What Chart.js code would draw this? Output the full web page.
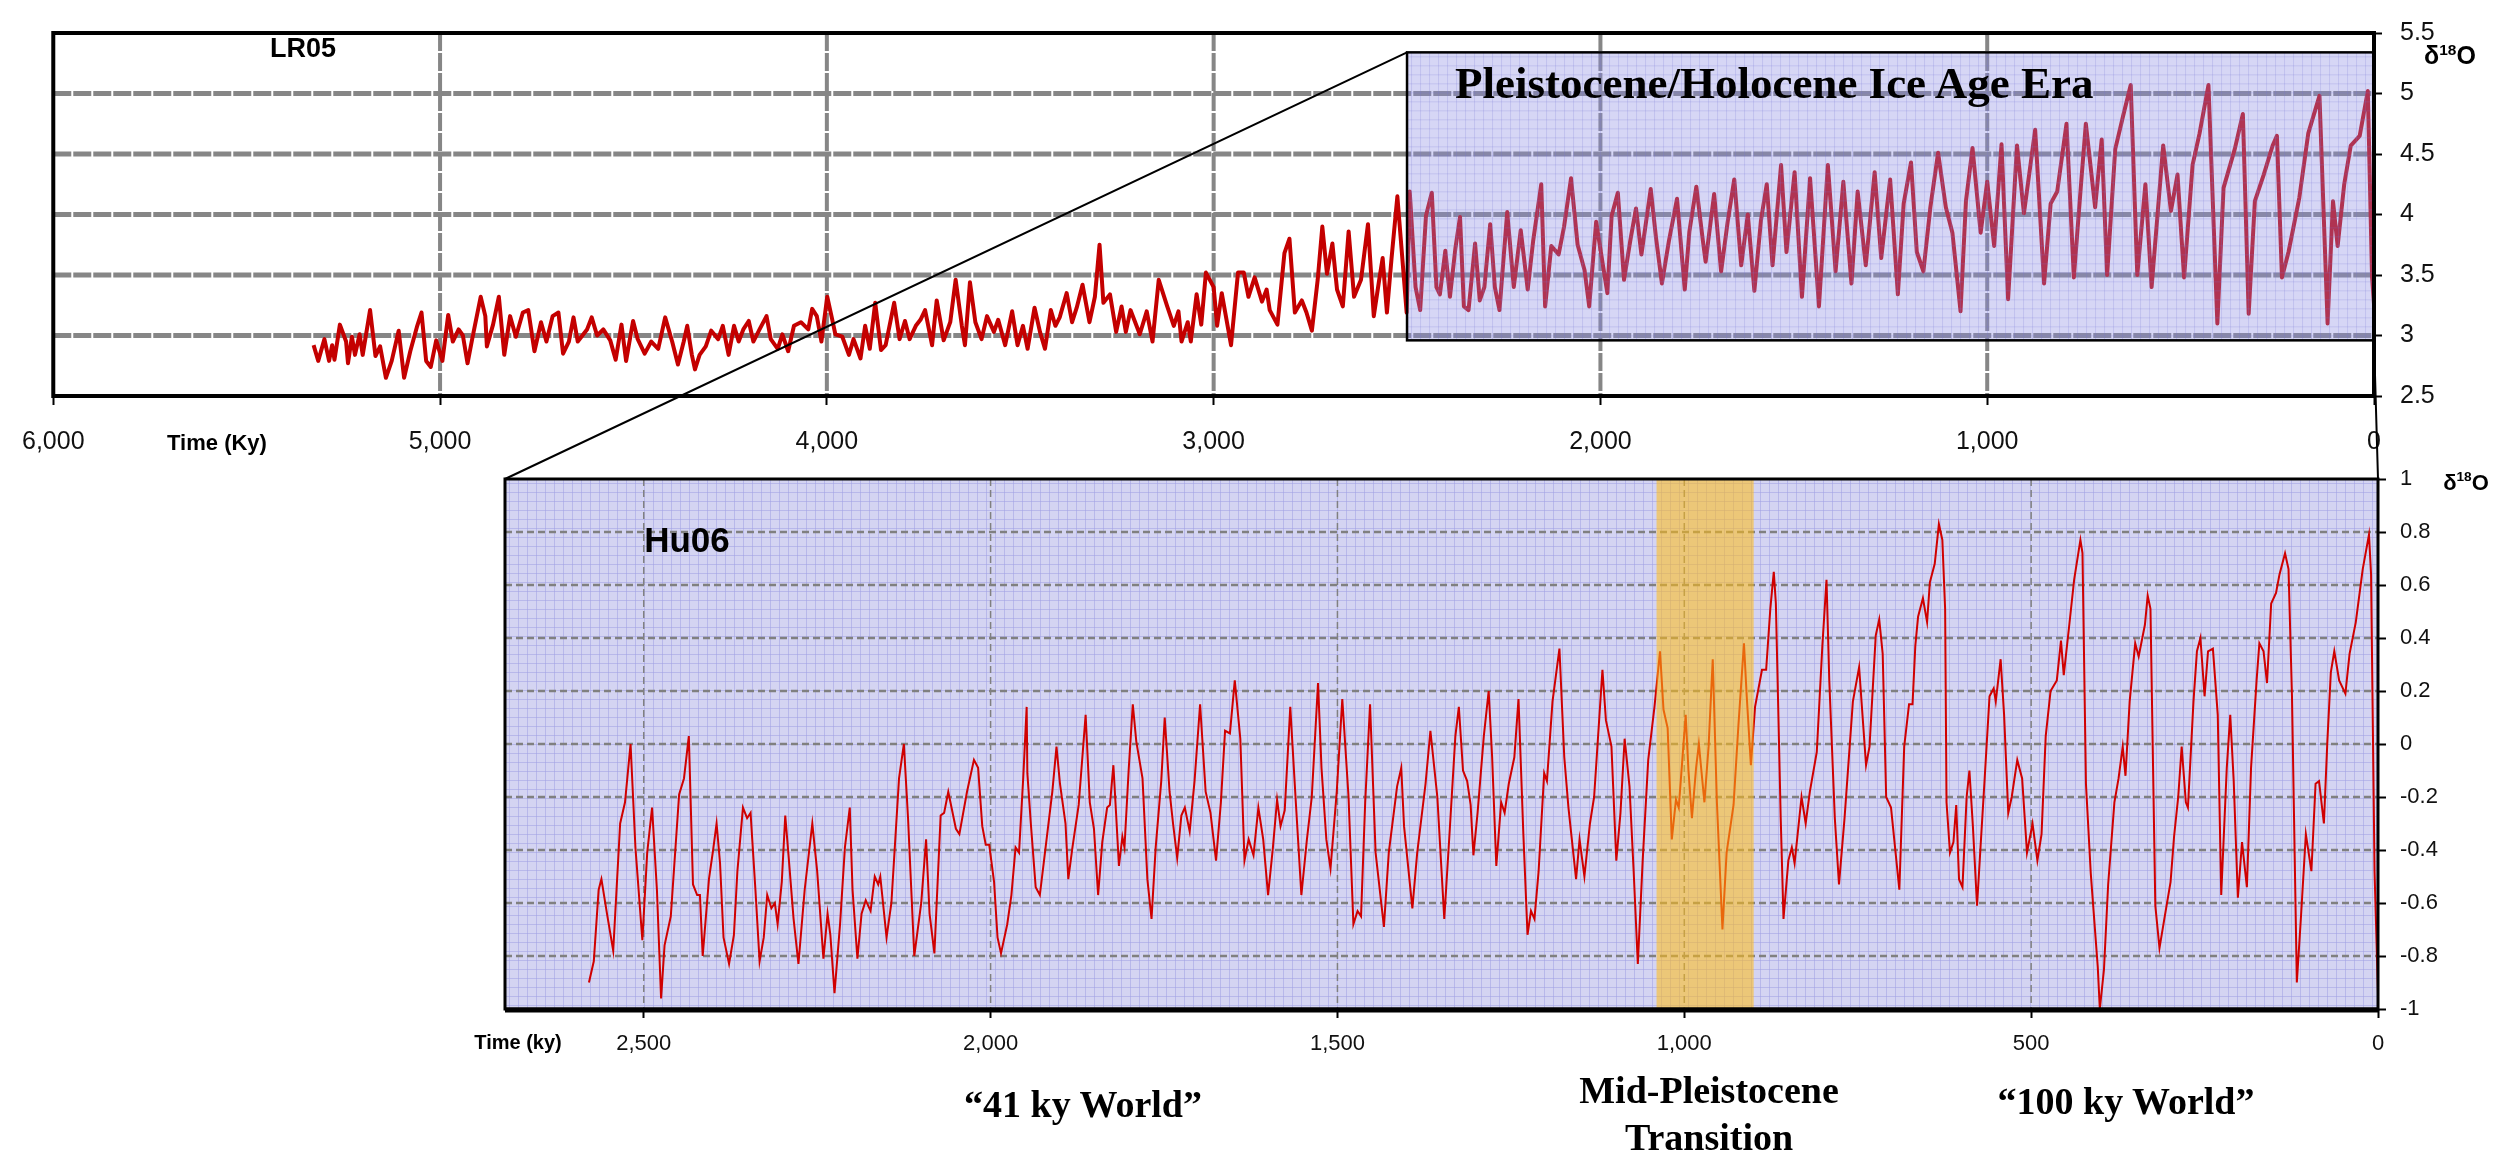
<!DOCTYPE html>
<html>
<head>
<meta charset="utf-8">
<script src="https://cdn.jsdelivr.net/npm/chart.js@4.4.0/dist/chart.umd.min.js"></script>
<style>
  body { margin: 0; background: #fff; }
  #wrap { position: relative; width: 2516px; height: 1150px; overflow: hidden; }
  canvas { position: absolute; left: 0; top: 0; }
  #lr05Canvas { z-index: 1; }
  #hu06Canvas { z-index: 2; }
  .lbl { position: absolute; white-space: nowrap; transform: translate(-50%, -50%); color: #000; z-index: 3; line-height: 1; }
  .left { transform: translate(0, -50%); }
  .sans { font-family: 'Liberation Sans', Arial, sans-serif; font-weight: bold; }
  .serif { font-family: 'Liberation Serif', 'Times New Roman', serif; font-weight: bold; }
  .sup { font-size: 0.62em; vertical-align: 0.6em; }
</style>
</head>
<body>
<div id="wrap">
  <canvas id="lr05Canvas" width="2516" height="1150"></canvas>
  <canvas id="hu06Canvas" width="2516" height="1150"></canvas>

  <div class="lbl sans" style="left:303px; top:48px; font-size:27px;">LR05</div>
  <div class="lbl serif left" style="left:1455px; top:83px; font-size:45px;">Pleistocene/Holocene Ice Age Era</div>
  <div class="lbl sans" style="left:2450px; top:55px; font-size:25px;">δ<span class="sup">18</span>O</div>
  <div class="lbl sans" style="left:217px; top:443px; font-size:22px;">Time (Ky)</div>

  <div class="lbl sans" style="left:687px; top:539px; font-size:35px;">Hu06</div>
  <div class="lbl sans" style="left:2466px; top:482px; font-size:22px;">δ<span class="sup">18</span>O</div>
  <div class="lbl sans" style="left:518px; top:1042px; font-size:20px;">Time (ky)</div>

  <div class="lbl serif" style="left:1083px; top:1104px; font-size:38px;">“41 ky World”</div>
  <div class="lbl serif" style="left:1709px; top:1090px; font-size:38px;">Mid-Pleistocene</div>
  <div class="lbl serif" style="left:1709px; top:1137px; font-size:38px;">Transition</div>
  <div class="lbl serif" style="left:2126px; top:1101px; font-size:38px;">“100 ky World”</div>
</div>

<script>
/* ---------------- LR05 stack (ky BP, δ18O ‰) ---------------- */
const lr05Age = [
  5327, 5315, 5299, 5287, 5279, 5273, 5259, 5243, 5238, 5228, 5220, 5208, 5200, 5181, 5167, 5155, 5140, 5125, 5107, 5093,
  5077, 5059, 5048, 5036, 5024, 5010, 4994, 4979, 4967, 4952, 4941, 4929, 4917, 4895, 4883, 4879, 4863, 4848, 4834, 4819,
  4804, 4786, 4772, 4756, 4739, 4725, 4709, 4694, 4682, 4667, 4655, 4644, 4620, 4608, 4594, 4578, 4560, 4546, 4531, 4519,
  4501, 4489, 4471, 4454, 4436, 4418, 4400, 4385, 4370, 4361, 4349, 4341, 4329, 4313, 4299, 4281, 4269, 4254, 4240, 4228,
  4216, 4202, 4190, 4174, 4156, 4145, 4127, 4115, 4100, 4085, 4067, 4048, 4038, 4026, 4014, 3999, 3988, 3978, 3960, 3943,
  3931, 3913, 3901, 3889, 3875, 3860, 3848, 3826, 3812, 3798, 3786, 3770, 3758, 3746, 3728, 3716, 3698, 3681, 3667, 3651,
  3643, 3630, 3616, 3600, 3586, 3568, 3557, 3539, 3521, 3507, 3493, 3481, 3463, 3449, 3436, 3421, 3409, 3398, 3380, 3366,
  3354, 3339, 3321, 3307, 3295, 3285, 3268, 3252, 3238, 3227, 3215, 3191, 3173, 3158, 3142, 3120, 3103, 3091, 3083, 3067,
  3059, 3044, 3032, 3020, 3000, 2991, 2979, 2955, 2937, 2922, 2910, 2894, 2875, 2863, 2855, 2835, 2817, 2804, 2790, 2772,
  2760, 2746, 2731, 2719, 2707, 2693, 2681, 2666, 2651, 2637, 2619, 2601, 2586, 2572, 2563, 2552, 2540, 2525, 2513, 2501,
  2493, 2478, 2466, 2451, 2436, 2424, 2415, 2401, 2389, 2375, 2363, 2353, 2341, 2324, 2312, 2300, 2285, 2273, 2261, 2241,
  2224, 2206, 2188, 2174, 2153, 2143, 2127, 2108, 2094, 2076, 2059, 2041, 2029, 2011, 1994, 1982, 1971, 1955, 1939, 1923,
  1908, 1894, 1870, 1856, 1841, 1823, 1802, 1782, 1770, 1752, 1735, 1728, 1706, 1688, 1671, 1654, 1636, 1619, 1602, 1585,
  1570, 1555, 1533, 1519, 1498, 1479, 1458, 1435, 1412, 1392, 1372, 1351, 1335, 1314, 1291, 1274, 1251, 1231, 1216, 1197,
  1182, 1165, 1147, 1127, 1107, 1090, 1069, 1055, 1038, 1017, 1000, 982, 963, 946, 923, 905, 876, 853, 836, 819,
  795, 776, 757, 745, 721, 704, 690, 669, 649, 629, 612, 591, 575, 545, 525, 508, 491, 469, 451, 428,
  405, 389, 360, 339, 324, 308, 285, 262, 251, 238, 221, 193, 170, 141, 120, 106, 94, 77, 60, 37,
  16, 5, 0
];
const lr05D18O = [
  2.92, 2.79, 2.97, 2.79, 2.92, 2.80, 3.09, 2.95, 2.77, 2.99, 2.84, 3.01, 2.84, 3.21, 2.83, 2.91, 2.65, 2.79, 3.04, 2.65,
  2.87, 3.08, 3.19, 2.79, 2.74, 2.96, 2.79, 3.17, 2.95, 3.05, 3.00, 2.77, 2.97, 3.32, 3.16, 2.91, 3.09, 3.32, 2.84, 3.16,
  2.99, 3.19, 3.21, 2.87, 3.11, 2.95, 3.16, 3.19, 2.85, 2.95, 3.15, 2.95, 3.05, 3.15, 3.00, 3.05, 2.96, 2.80, 3.09, 2.79,
  3.12, 2.97, 2.85, 2.95, 2.89, 3.15, 2.95, 2.76, 2.95, 3.08, 2.84, 2.72, 2.84, 2.91, 3.04, 2.97, 3.08, 2.84, 3.08, 2.95,
  3.05, 3.12, 2.95, 3.05, 3.16, 2.97, 2.89, 3.01, 2.87, 3.08, 3.11, 3.05, 3.22, 3.16, 2.95, 3.32, 3.16, 3.01, 2.99, 2.84,
  2.97, 2.81, 3.08, 2.89, 3.27, 2.88, 2.92, 3.27, 2.97, 3.12, 2.97, 3.08, 3.13, 3.21, 2.92, 3.29, 2.96, 3.11, 3.46, 3.08,
  2.92, 3.44, 3.11, 2.97, 3.16, 3.03, 3.13, 2.92, 3.20, 2.92, 3.08, 2.89, 3.23, 3.03, 2.89, 3.21, 3.08, 3.15, 3.35, 3.11,
  3.23, 3.42, 3.11, 3.32, 3.75, 3.27, 3.34, 3.03, 3.24, 3.03, 3.21, 3.01, 3.20, 2.95, 3.46, 3.24, 3.08, 3.20, 2.95, 3.11,
  2.95, 3.34, 3.09, 3.52, 3.40, 3.08, 3.35, 2.92, 3.52, 3.52, 3.32, 3.48, 3.28, 3.38, 3.21, 3.09, 3.68, 3.80, 3.19, 3.29,
  3.19, 3.04, 3.46, 3.90, 3.51, 3.76, 3.38, 3.24, 3.86, 3.32, 3.46, 3.92, 3.16, 3.46, 3.64, 3.19, 3.64, 4.15, 3.67, 3.19,
  4.19, 3.40, 3.21, 3.99, 4.18, 3.40, 3.34, 3.70, 3.32, 3.72, 3.98, 3.24, 3.21, 3.76, 3.29, 3.40, 3.92, 3.40, 3.21, 4.02,
  3.40, 3.87, 3.38, 3.78, 4.25, 3.24, 3.74, 3.67, 3.90, 4.30, 3.75, 3.54, 3.24, 3.94, 3.59, 3.35, 3.99, 4.18, 3.46, 3.78,
  4.05, 3.67, 4.21, 3.80, 3.43, 3.78, 4.13, 3.38, 3.86, 4.23, 3.78, 3.61, 4.17, 3.53, 3.94, 4.29, 3.58, 4.00, 3.37, 3.95,
  4.25, 3.58, 4.41, 3.69, 4.35, 3.32, 4.30, 3.24, 4.41, 3.53, 4.27, 3.43, 4.19, 3.58, 4.35, 3.64, 4.29, 3.34, 4.09, 4.43,
  3.69, 3.53, 4.06, 4.51, 4.06, 3.85, 3.20, 4.11, 4.55, 3.85, 4.27, 3.74, 4.58, 3.30, 4.57, 4.01, 4.70, 3.43, 4.09, 4.19,
  4.75, 3.48, 4.27, 4.75, 4.06, 4.62, 3.50, 4.54, 4.81, 5.07, 3.50, 4.25, 3.40, 4.57, 4.03, 4.33, 3.48, 4.41, 4.67, 5.07,
  3.10, 4.22, 4.54, 4.83, 3.18, 4.11, 4.33, 4.57, 4.65, 3.48, 3.69, 4.14, 4.67, 4.98, 3.10, 4.11, 3.74, 4.25, 4.57, 4.65,
  5.02, 3.48, 3.26
];

/* ---------------- Huybers 2006 (ky BP, δ18O anomaly) ---------------- */
const hu06Age = [
  2579, 2572, 2565, 2561, 2553, 2544, 2534, 2527, 2519, 2512, 2502, 2495, 2488, 2481, 2475, 2470, 2461, 2449, 2442, 2435,
  2429, 2423, 2419, 2415, 2406, 2400, 2395, 2390, 2385, 2377, 2370, 2365, 2357, 2351, 2346, 2339, 2333, 2327, 2322, 2316,
  2311, 2307, 2301, 2296, 2291, 2284, 2277, 2268, 2257, 2250, 2241, 2235, 2231, 2225, 2217, 2210, 2203, 2199, 2192, 2186,
  2180, 2173, 2167, 2162, 2159, 2150, 2143, 2132, 2125, 2119, 2110, 2100, 2093, 2088, 2081, 2072, 2067, 2061, 2050, 2045,
  2034, 2024, 2018, 2012, 2007, 2002, 1995, 1990, 1985, 1976, 1970, 1964, 1959, 1953, 1948, 1947, 1942, 1935, 1929, 1923,
  1911, 1905, 1900, 1892, 1888, 1882, 1873, 1863, 1857, 1851, 1845, 1839, 1832, 1828, 1823, 1820, 1815, 1810, 1807, 1801,
  1795, 1790, 1781, 1774, 1768, 1762, 1754, 1749, 1742, 1737, 1731, 1725, 1720, 1713, 1706, 1698, 1690, 1683, 1675, 1668,
  1662, 1655, 1648, 1640, 1634, 1628, 1621, 1614, 1607, 1600, 1593, 1587, 1582, 1576, 1568, 1560, 1552, 1544, 1537, 1528,
  1523, 1516, 1510, 1501, 1493, 1484, 1477, 1471, 1466, 1460, 1453, 1445, 1433, 1426, 1414, 1408, 1404, 1392, 1385, 1373,
  1366, 1356, 1346, 1338, 1330, 1325, 1319, 1313, 1308, 1304, 1298, 1289, 1282, 1277, 1271, 1264, 1259, 1253, 1245, 1239,
  1232, 1226, 1221, 1216, 1210, 1202, 1198, 1190, 1180, 1173, 1167, 1156, 1151, 1144, 1136, 1130, 1123, 1118, 1113, 1105,
  1098, 1092, 1086, 1079, 1073, 1067, 1060, 1052, 1043, 1035, 1030, 1024, 1018, 1012, 1008, 998, 994, 989, 983, 979,
  971, 965, 959, 953, 945, 939, 929, 922, 914, 910, 904, 898, 888, 882, 876, 871, 868, 861, 857, 850,
  845, 841, 831, 825, 819, 809, 801, 795, 791, 783, 777, 769, 757, 748, 738, 733, 724, 719, 714, 709,
  702, 690, 683, 676, 671, 667, 663, 656, 650, 646, 639, 633, 628, 624, 622, 617, 612, 608, 604, 599,
  593, 589, 584, 578, 573, 567, 560, 554, 551, 544, 539, 533, 528, 520, 513, 506, 498, 491, 485, 479,
  472, 463, 457, 453, 445, 438, 429, 426, 421, 414, 404, 401, 395, 389, 380, 374, 368, 364, 358, 350,
  345, 336, 332, 328, 321, 315, 308, 299, 294, 288, 283, 277, 274, 266, 261, 256, 250, 245, 238, 231,
  226, 218, 213, 208, 202, 196, 189, 183, 175, 171, 165, 160, 154, 147, 142, 134, 129, 124, 117, 111,
  104, 96, 90, 85, 78, 73, 68, 63, 56, 47, 41, 32, 22, 13, 10, 5, 0
];
const hu06D18O = [
  -0.90, -0.82, -0.55, -0.51, -0.64, -0.78, -0.30, -0.22, 0.00, -0.39, -0.74, -0.41, -0.24, -0.55, -0.96, -0.76, -0.65, -0.19, -0.13, 0.03,
  -0.53, -0.57, -0.57, -0.80, -0.51, -0.40, -0.30, -0.45, -0.73, -0.83, -0.72, -0.48, -0.24, -0.28, -0.26, -0.55, -0.82, -0.73, -0.57, -0.62,
  -0.60, -0.68, -0.52, -0.27, -0.43, -0.66, -0.83, -0.55, -0.30, -0.48, -0.81, -0.64, -0.72, -0.94, -0.68, -0.39, -0.24, -0.55, -0.81, -0.64,
  -0.59, -0.63, -0.50, -0.53, -0.50, -0.73, -0.60, -0.13, 0.00, -0.28, -0.80, -0.60, -0.36, -0.64, -0.79, -0.27, -0.26, -0.18, -0.32, -0.34,
  -0.18, -0.06, -0.09, -0.31, -0.38, -0.38, -0.52, -0.73, -0.79, -0.68, -0.57, -0.39, -0.41, -0.13, 0.14, -0.11, -0.30, -0.54, -0.57, -0.44,
  -0.18, -0.01, -0.15, -0.30, -0.51, -0.39, -0.23, 0.11, -0.22, -0.32, -0.57, -0.37, -0.24, -0.23, -0.08, -0.22, -0.46, -0.35, -0.39, -0.10,
  0.15, 0.01, -0.13, -0.51, -0.66, -0.39, -0.14, 0.10, -0.18, -0.30, -0.43, -0.27, -0.24, -0.33, -0.14, 0.15, -0.18, -0.26, -0.44, -0.22,
  0.05, 0.04, 0.24, 0.02, -0.44, -0.36, -0.42, -0.24, -0.36, -0.57, -0.39, -0.21, -0.31, -0.25, 0.14, -0.22, -0.57, -0.36, -0.20, 0.23,
  -0.09, -0.36, -0.47, -0.18, 0.17, -0.20, -0.68, -0.63, -0.65, -0.22, 0.15, -0.41, -0.69, -0.41, -0.16, -0.09, -0.31, -0.62, -0.41, -0.15,
  0.05, -0.20, -0.66, -0.32, 0.03, 0.14, -0.10, -0.14, -0.23, -0.42, -0.26, 0.03, 0.20, -0.05, -0.46, -0.22, -0.26, -0.15, -0.05, 0.17,
  -0.34, -0.72, -0.63, -0.66, -0.48, -0.11, -0.14, 0.16, 0.36, -0.05, -0.24, -0.51, -0.36, -0.50, -0.30, -0.20, 0.08, 0.28, 0.09, -0.01,
  -0.44, -0.26, 0.02, -0.16, -0.48, -0.83, -0.44, -0.06, 0.14, 0.35, 0.13, 0.06, -0.36, -0.21, -0.24, 0.11, -0.10, -0.28, -0.09, 0.00,
  -0.22, -0.01, 0.32, -0.22, -0.70, -0.41, -0.23, 0.07, 0.38, 0.18, -0.08, 0.14, 0.28, 0.28, 0.51, 0.65, 0.53, -0.28, -0.66, -0.44,
  -0.39, -0.45, -0.20, -0.30, -0.18, -0.03, 0.37, 0.62, 0.24, -0.28, -0.53, -0.28, 0.16, 0.29, -0.08, -0.01, 0.41, 0.47, 0.34, -0.20,
  -0.24, -0.55, -0.01, 0.15, 0.15, 0.37, 0.48, 0.55, 0.46, 0.61, 0.68, 0.83, 0.77, 0.51, -0.22, -0.41, -0.37, -0.23, -0.51, -0.54,
  -0.20, -0.10, -0.31, -0.61, -0.39, -0.13, 0.18, 0.21, 0.16, 0.32, 0.11, -0.26, -0.20, -0.06, -0.13, -0.41, -0.30, -0.44, -0.34, 0.03,
  0.20, 0.24, 0.39, 0.26, 0.45, 0.62, 0.77, 0.72, -0.15, -0.49, -0.84, -1.00, -0.85, -0.53, -0.22, -0.13, -0.01, -0.12, 0.16, 0.38,
  0.33, 0.45, 0.56, 0.51, -0.61, -0.77, -0.66, -0.52, -0.35, -0.20, -0.01, -0.22, -0.24, 0.16, 0.35, 0.40, 0.18, 0.35, 0.36, 0.11,
  -0.57, -0.09, 0.11, -0.14, -0.58, -0.37, -0.54, -0.09, 0.24, 0.38, 0.35, 0.23, 0.53, 0.57, 0.64, 0.72, 0.66, 0.18, -0.90, -0.65,
  -0.34, -0.48, -0.15, -0.14, -0.30, 0.01, 0.27, 0.35, 0.24, 0.19, 0.34, 0.46, 0.66, 0.79, 0.64, -0.48, -0.94
];

/* ---------------- axes, ticks and highlighted spans ---------------- */
const lr05TimeRange = [0, 6000];
const lr05ValueRange = [2.5, 5.5];
const lr05TimeTicks = [6000, 5000, 4000, 3000, 2000, 1000, 0];
const lr05ValueTicks = [2.5, 3, 3.5, 4, 4.5, 5, 5.5];
const hu06TimeRange = [0, 2700];
const hu06ValueRange = [-1, 1];
const hu06TimeTicks = [2500, 2000, 1500, 1000, 500, 0];
const hu06ValueTicks = [-1, -0.8, -0.6, -0.4, -0.2, 0, 0.2, 0.4, 0.6, 0.8, 1];
const eraSpan = [2500, 0];        // ky, zoomed Pleistocene/Holocene box
const eraValues = [5.34, 2.96];   // δ18O top / bottom of the box
const mptSpan = [1040, 900];      // Mid-Pleistocene Transition band

let lr05Chart = null;
let hu06Chart = null;

function fmtTime(v) { return Number(v).toLocaleString("en-US"); }
function fmtVal(v) { return String(+Number(v).toFixed(1)); }

function drawFineGrid(ctx, l, t, r, b, base, line) {
    ctx.save();
    ctx.fillStyle = base;
    ctx.fillRect(l, t, r - l, b - t);
    ctx.strokeStyle = line;
    ctx.lineWidth = 1;
    ctx.beginPath();
    for (let y = t + 4.5; y < b; y += 9) { ctx.moveTo(l, y); ctx.lineTo(r, y); }
    for (let x = l + 4.5; x < r; x += 9) { ctx.moveTo(x, t); ctx.lineTo(x, b); }
    ctx.stroke();
    ctx.restore();
}

// major grid lines, placed from the chart's own scales
function drawMajorGrid(chart, g) {
    const {ctx, chartArea: a, scales: {x, y}} = chart;
    ctx.save();
    ctx.strokeStyle = g.color;
    ctx.setLineDash(g.dash);
    ctx.lineWidth = g.xWidth;
    x.ticks.forEach(tk => {
        const px = x.getPixelForValue(tk.value);
        if (px <= a.left + 2 || px >= a.right - 2) return;
        ctx.beginPath(); ctx.moveTo(px, a.top); ctx.lineTo(px, a.bottom); ctx.stroke();
    });
    ctx.lineWidth = g.yWidth;
    y.ticks.forEach(tk => {
        const py = y.getPixelForValue(tk.value);
        if (py <= a.top + 2 || py >= a.bottom - 2) return;
        ctx.beginPath(); ctx.moveTo(a.left, py); ctx.lineTo(a.right, py); ctx.stroke();
    });
    ctx.restore();
}

const lr05Plugin = {
    id: "lr05Deco",
    beforeDatasetsDraw(chart) {
        drawMajorGrid(chart, { color: "#868686", dash: [18, 2], xWidth: 4, yWidth: 5 });
    },
    afterDatasetsDraw(chart) {
        const {ctx, scales: {x, y}} = chart;
        const l = x.getPixelForValue(eraSpan[0]), r = x.getPixelForValue(eraSpan[1]);
        const t = y.getPixelForValue(eraValues[0]), b = y.getPixelForValue(eraValues[1]);
        drawFineGrid(ctx, l, t, r, b, "rgba(140,140,226,0.36)", "rgba(120,120,215,0.22)");
        ctx.save();
        ctx.strokeStyle = "#000";
        ctx.lineWidth = 2.5;
        ctx.strokeRect(l, t, r - l, b - t);
        ctx.restore();
    },
    afterDraw(chart) {
        const {ctx, chartArea: a} = chart;
        ctx.save();
        ctx.strokeStyle = "#000";
        ctx.lineWidth = 4;
        ctx.strokeRect(a.left, a.top, a.right - a.left, a.bottom - a.top);
        ctx.restore();
    }
};

const hu06Plugin = {
    id: "hu06Deco",
    beforeDraw(chart) {
        const a = chart.chartArea;
        drawFineGrid(chart.ctx, a.left, a.top, a.right, a.bottom, "#d4d4f2", "rgba(160,160,228,0.55)");
    },
    beforeDatasetsDraw(chart) {
        drawMajorGrid(chart, { color: "#808080", dash: [7, 4], xWidth: 1.5, yWidth: 2.5 });
    },
    afterDatasetsDraw(chart) {
        const {ctx, chartArea: a, scales: {x}} = chart;
        const l = x.getPixelForValue(mptSpan[0]), r = x.getPixelForValue(mptSpan[1]);
        ctx.save();
        ctx.fillStyle = "rgba(255,188,20,0.55)";
        ctx.fillRect(l, a.top, r - l, a.bottom - a.top);
        ctx.restore();
    },
    afterDraw(chart) {
        const {ctx, chartArea: a, scales: {x}} = chart;
        ctx.save();
        ctx.strokeStyle = "#000";
        ctx.lineWidth = 3;
        ctx.strokeRect(a.left, a.top, a.right - a.left, a.bottom - a.top);
        ctx.lineWidth = 5;
        ctx.beginPath();
        ctx.moveTo(a.left, a.bottom + 1);
        ctx.lineTo(a.right, a.bottom + 1);
        ctx.stroke();

        // connector lines from the LR05 era box down to this panel
        if (lr05Chart) {
            const sx = lr05Chart.scales.x, sy = lr05Chart.scales.y;
            ctx.lineWidth = 2;
            ctx.beginPath();
            ctx.moveTo(sx.getPixelForValue(eraSpan[0]), sy.getPixelForValue(eraValues[0]));
            ctx.lineTo(a.left, a.top);
            ctx.moveTo(sx.getPixelForValue(eraSpan[1]), sy.getPixelForValue(eraValues[1]));
            ctx.lineTo(x.getPixelForValue(0), a.top);
            ctx.stroke();
        }
        ctx.restore();
    }
};

function makeAxes(opts) {
    const tickFont = { family: "'Liberation Sans', Arial, sans-serif", size: opts.fontSize };
    return {
        x: {
            type: "linear",
            reverse: true,
            min: opts.xRange[0],
            max: opts.xRange[1],
            afterFit: s => { s.height = 80; },
            afterBuildTicks: s => { s.ticks = opts.xTicks.map(v => ({ value: v })); },
            border: { display: false },
            grid: { drawOnChartArea: false, tickColor: "#000", tickWidth: 2, tickLength: 9 },
            ticks: {
                maxRotation: 0, autoSkip: false, padding: opts.xPad, color: "#111",
                font: tickFont, callback: fmtTime
            }
        },
        y: {
            position: "right",
            min: opts.yRange[0],
            max: opts.yRange[1],
            afterFit: s => { s.width = 60; },
            afterBuildTicks: s => { s.ticks = opts.yTicks.map(v => ({ value: v })); },
            border: { display: false },
            grid: { drawOnChartArea: false, tickColor: "#000", tickWidth: 2, tickLength: 8 },
            ticks: {
                padding: opts.yPad, color: "#111",
                font: tickFont, callback: fmtVal
            }
        }
    };
}

lr05Chart = new Chart(document.getElementById("lr05Canvas"), {
    type: "line",
    data: {
        datasets: [{
            label: "LR05",
            data: lr05Age.map((t, i) => ({ x: t, y: lr05D18O[i] })),
            borderColor: "#c40000",
            borderWidth: 4,
            pointRadius: 0,
            tension: 0,
            borderJoinStyle: "round"
        }]
    },
    options: {
        responsive: false,
        animation: false,
        events: [],
        layout: { padding: { left: 47, top: 20, right: 82, bottom: 674 } },
        plugins: { legend: { display: false }, tooltip: { enabled: false } },
        scales: makeAxes({
            xRange: lr05TimeRange, yRange: lr05ValueRange,
            xTicks: lr05TimeTicks, yTicks: lr05ValueTicks,
            fontSize: 25, xPad: 22, yPad: 18
        })
    },
    plugins: [lr05Plugin]
});

hu06Chart = new Chart(document.getElementById("hu06Canvas"), {
    type: "line",
    data: {
        datasets: [{
            label: "Hu06",
            data: hu06Age.map((t, i) => ({ x: t, y: hu06D18O[i] })),
            borderColor: "#d00000",
            borderWidth: 2,
            pointRadius: 0,
            tension: 0
        }]
    },
    options: {
        responsive: false,
        animation: false,
        events: [],
        layout: { padding: { left: 505, top: 479, right: 78, bottom: 61 } },
        plugins: { legend: { display: false }, tooltip: { enabled: false } },
        scales: makeAxes({
            xRange: hu06TimeRange, yRange: hu06ValueRange,
            xTicks: hu06TimeTicks, yTicks: hu06ValueTicks,
            fontSize: 22, xPad: 13, yPad: 14
        })
    },
    plugins: [hu06Plugin]
});
</script>
</body>
</html>
